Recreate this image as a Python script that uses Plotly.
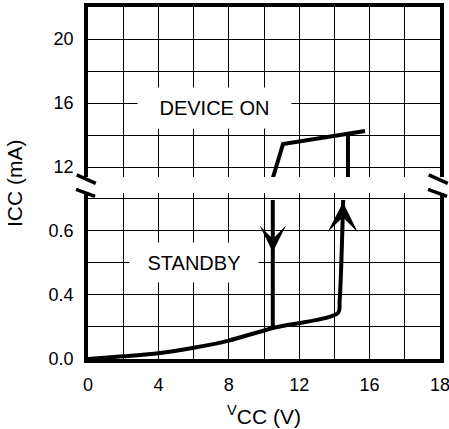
import plotly.graph_objects as go

# ---- axis ticks (as printed on the chart) ----
x_tickvals = [0, 2, 4, 6, 8, 10, 12, 14, 16, 18, 20]
x_ticktext = ["0", "", "4", "", "8", "", "12", "", "16", "", "18"]
lo_tickvals = [0, 0.2, 0.4, 0.6, 0.8, 1.0]
lo_ticktext = ["0.0", "", "0.4", "", "0.6", ""]
hi_tickvals = [12, 14, 16, 18, 20, 22]
hi_ticktext = ["12", "", "16", "", "20", ""]

# ---- data (lower panel in grid units, upper panel in mA) ----
standby_v = [0, 2, 4, 6, 8, 10.5, 14.2, 14.3, 14.5]
standby_i = [0, 0.017, 0.036, 0.07, 0.115, 0.194, 0.2875, 0.37, 0.994]
turnoff_v = [10.5, 10.5]
turnoff_i = [0.994, 0.194]
on_v = [10.5, 11.08, 15.74]
on_i = [11.3, 13.44, 14.25]
turnon_v = [14.77, 14.77]
turnon_i = [11.3, 14.08]

FONT = "Liberation Sans, Arial, Helvetica, sans-serif"
LW = 4

fig = go.Figure()
fig.add_trace(go.Scatter(x=standby_v, y=standby_i, mode="lines", xaxis="x", yaxis="y",
                         line=dict(color="black", width=LW, shape="spline", smoothing=0.8)))
fig.add_trace(go.Scatter(x=turnoff_v, y=turnoff_i, mode="lines", xaxis="x", yaxis="y",
                         line=dict(color="black", width=LW)))
fig.add_trace(go.Scatter(x=on_v, y=on_i, mode="lines", xaxis="x2", yaxis="y2",
                         line=dict(color="black", width=LW)))
fig.add_trace(go.Scatter(x=turnon_v, y=turnon_i, mode="lines", xaxis="x2", yaxis="y2",
                         line=dict(color="black", width=LW)))

axis_common = dict(showgrid=True, gridcolor="black", gridwidth=1.2, zeroline=False,
                   showline=True, linecolor="black", linewidth=3.5, ticks="", automargin=False,
                   ticklabeloverflow="allow",
                   tickfont=dict(family=FONT, size=18, color="black"))

fig.update_layout(
    width=449, height=429,
    margin=dict(l=88, r=9, t=7, b=70, autoexpand=False),
    paper_bgcolor="white", plot_bgcolor="white",
    showlegend=False,
    font=dict(family=FONT, size=18, color="black"),
    xaxis=dict(range=[0, 20], tickmode="array", tickvals=x_tickvals, ticktext=x_ticktext,
               anchor="y", ticklabelstandoff=7, **axis_common),
    xaxis2=dict(range=[0, 20], matches="x", anchor="y2", side="top", tickmode="array",
                tickvals=x_tickvals, showticklabels=False, **axis_common),
    yaxis=dict(domain=[0, 0.4716], range=[0, 1.0375], tickmode="array", tickvals=lo_tickvals,
               ticktext=lo_ticktext, mirror=True, anchor="x", ticklabelstandoff=7, **axis_common),
    yaxis2=dict(domain=[0.517, 1], range=[11.375, 22], tickmode="array", tickvals=hi_tickvals,
                ticktext=hi_ticktext, mirror=True, anchor="x2", ticklabelstandoff=7, **axis_common),
)

# break marks
for dx in (0.0, 1.0):
    for (x0, y0, x1, y1) in [(-0.032, 0.523, 0.022, 0.499), (-0.034, 0.482, 0.020, 0.462)]:
        fig.add_shape(type="line", xref="paper", yref="paper", x0=x0 + dx, y0=y0, x1=x1 + dx, y1=y1,
                      line=dict(color="black", width=3.5))

# labels with white boxes
fig.add_annotation(x=7.2, y=15.66, xref="x2", yref="y2", text="DEVICE ON", showarrow=False,
                   width=153, height=40, bgcolor="white", borderpad=0,
                   font=dict(family=FONT, size=20, color="black"))
fig.add_annotation(x=6.02, y=0.603, xref="x", yref="y", text="STANDBY", showarrow=False,
                   width=128, height=39, bgcolor="white", borderpad=0,
                   font=dict(family=FONT, size=20, color="black"))

# direction arrows
fig.add_annotation(x=10.5, y=0.669, ax=10.5, ay=0.9, xref="x", yref="y", axref="x", ayref="y",
                   text="", showarrow=True, arrowhead=3, arrowsize=2.2, arrowwidth=2, arrowcolor="black")
fig.add_annotation(x=14.49, y=0.98, ax=14.47, ay=0.75, xref="x", yref="y", axref="x", ayref="y",
                   text="", showarrow=True, arrowhead=3, arrowsize=2.5, arrowwidth=2, arrowcolor="black")

# axis titles
fig.add_annotation(x=0, y=0.5, xref="paper", yref="paper", xanchor="center", yanchor="middle",
                   xshift=-74, textangle=-90, showarrow=False, text="ICC (mA)",
                   font=dict(family=FONT, size=21, color="black"))
fig.add_annotation(x=0.5, y=0, xref="paper", yref="paper", xanchor="center", yanchor="top",
                   yshift=-41, showarrow=False, text="<sup>V</sup>CC (V)",
                   font=dict(family=FONT, size=21, color="black"))

fig.write_html("out.html", config={"displayModeBar": False},
               post_script="document.body.style.margin='0px';document.body.style.padding='0px';")
